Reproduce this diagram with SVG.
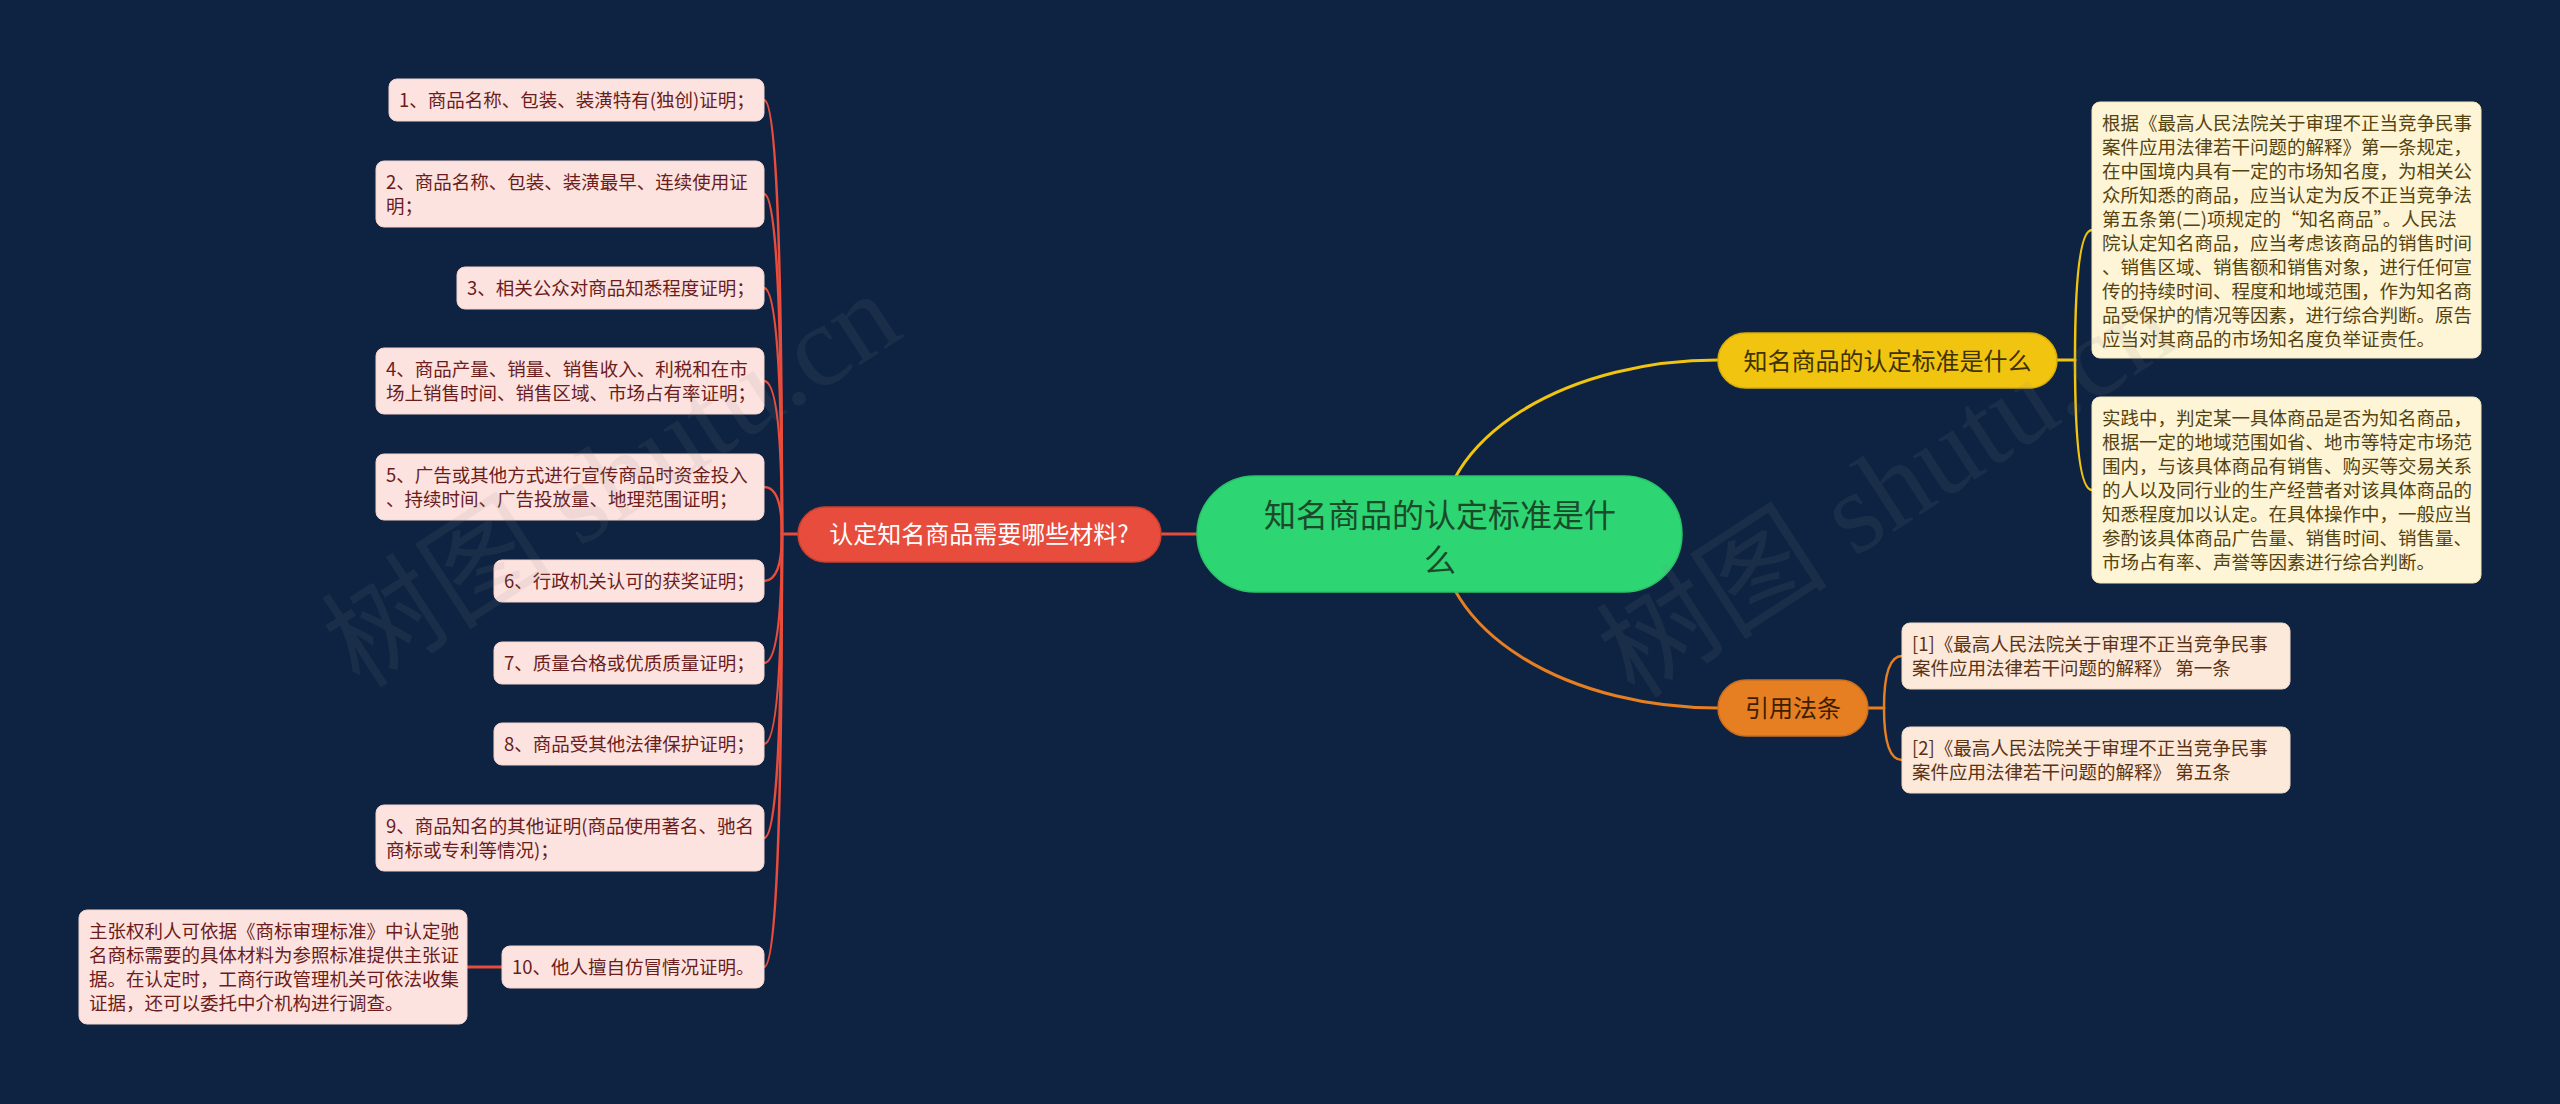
<svg xmlns="http://www.w3.org/2000/svg" width="2560" height="1104" viewBox="0 0 2560 1104">
<style>
.bg{fill:#0d2341}
.t{font-family:"Noto Sans CJK SC","Noto Sans",sans-serif;font-size:18.5px}
.pk rect{fill:#fce3df;stroke:#f6d3ce;stroke-width:1}
.pk text{fill:#6b1c1c}
.cr rect{fill:#fdf5d6;stroke:#f3e8bf;stroke-width:1}
.cr text{fill:#55430f}
.pc rect{fill:#fce9da;stroke:#f2dac6;stroke-width:1}
.pc text{fill:#5a3314}
.c{fill:none;stroke-width:3;stroke-linecap:round}
.cred{stroke:#e74c3c}
.cyel{stroke:#f1c40f}
.cora{stroke:#e67e22}
.big{font-family:"Noto Sans CJK SC","Noto Sans",sans-serif;text-anchor:middle}
.wm{font-family:"Liberation Serif","Noto Sans CJK SC",serif;font-size:116px;fill:#8a8a8a;opacity:0.11}
</style>
<rect class="bg" x="0" y="0" width="2560" height="1104"/>
<g id="connectors">
<path class="c cred" d="M1161,534 H1198"/>
<path class="c cred" d="M798,534 H782"/>
<g>
<path class="c cred" style="stroke-width:2.5" d="M782,534 Q782,100 764,100"/>
<path class="c cred" style="stroke-width:2.5" d="M782,534 Q782,194 764,194"/>
<path class="c cred" style="stroke-width:2.5" d="M782,534 Q782,288 764,288"/>
<path class="c cred" style="stroke-width:2.5" d="M782,534 Q782,381 764,381"/>
<path class="c cred" style="stroke-width:2.5" d="M782,534 Q782,487 764,487"/>
<path class="c cred" style="stroke-width:2.5" d="M782,534 Q782,581 764,581"/>
<path class="c cred" style="stroke-width:2.5" d="M782,534 Q782,663 764,663"/>
<path class="c cred" style="stroke-width:2.5" d="M782,534 Q782,744 764,744"/>
<path class="c cred" style="stroke-width:2.5" d="M782,534 Q782,838 764,838"/>
<path class="c cred" style="stroke-width:2.5" d="M782,534 Q782,967 764,967"/>
</g>
<path class="c cred" d="M502,967 H467"/>
<path class="c cyel" d="M1440,534 A278,174 0 0 1 1718,360"/>
<path class="c cora" d="M1440,534 A278,174 0 0 0 1718,708"/>
<path class="c cyel" d="M2057,360 H2075"/>
<path class="c cyel" style="stroke-width:2.5" d="M2075,360 Q2075,230 2092,230"/>
<path class="c cyel" style="stroke-width:2.5" d="M2075,360 Q2075,490 2092,490"/>
<path class="c cora" d="M1868,708 H1884"/>
<path class="c cora" style="stroke-width:2.5" d="M1884,708 Q1884,656 1902,656"/>
<path class="c cora" style="stroke-width:2.5" d="M1884,708 Q1884,760 1902,760"/>
</g>
<g id="root">
<rect x="1197" y="476" width="485" height="116" rx="58" fill="#2ed573" stroke="#29c468" stroke-width="1.5"/>
<text class="big" font-size="32" fill="#1b4a2b"><tspan x="1440" y="527">知名商品的认定标准是什</tspan><tspan x="1440" y="572">么</tspan></text>
</g>
<g id="branch-materials">
<rect x="798" y="507" width="363" height="55" rx="27.5" fill="#e74c3c" stroke="#c9402f" stroke-width="1.5"/>
<text class="big" x="979" y="543" font-size="24" fill="#ffffff">认定知名商品需要哪些材料?</text>
</g>
<g id="branch-standard">
<rect x="1718" y="333" width="339" height="55" rx="27.5" fill="#f1c40f" stroke="#d8ae0c" stroke-width="1.5"/>
<text class="big" x="1887.5" y="370" font-size="24" fill="#3f3200">知名商品的认定标准是什么</text>
</g>
<g id="branch-law">
<rect x="1718" y="680" width="150" height="56" rx="28" fill="#e67e22" stroke="#cc6d1a" stroke-width="1.5"/>
<text class="big" x="1793" y="717" font-size="24" fill="#3d1f00">引用法条</text>
</g>
<g id="m1" class="pk"><rect x="389" y="79" width="375" height="42" rx="8"/><text class="t" x="399" y="107">1、商品名称、包装、装潢特有(独创)证明；</text></g>
<g id="m2" class="pk"><rect x="376" y="161" width="388" height="66" rx="8"/><text class="t"><tspan x="386" y="189">2、商品名称、包装、装潢最早、连续使用证</tspan><tspan x="386" y="213">明；</tspan></text></g>
<g id="m3" class="pk"><rect x="457" y="267" width="307" height="42" rx="8"/><text class="t" x="467" y="295">3、相关公众对商品知悉程度证明；</text></g>
<g id="m4" class="pk"><rect x="376" y="348" width="388" height="66" rx="8"/><text class="t"><tspan x="386" y="376">4、商品产量、销量、销售收入、利税和在市</tspan><tspan x="386" y="400">场上销售时间、销售区域、市场占有率证明；</tspan></text></g>
<g id="m5" class="pk"><rect x="376" y="454" width="388" height="66" rx="8"/><text class="t"><tspan x="386" y="482">5、广告或其他方式进行宣传商品时资金投入</tspan><tspan x="386" y="506">、持续时间、广告投放量、地理范围证明；</tspan></text></g>
<g id="m6" class="pk"><rect x="494" y="560" width="270" height="42" rx="8"/><text class="t" x="504" y="588">6、行政机关认可的获奖证明；</text></g>
<g id="m7" class="pk"><rect x="494" y="642" width="270" height="42" rx="8"/><text class="t" x="504" y="670">7、质量合格或优质质量证明；</text></g>
<g id="m8" class="pk"><rect x="494" y="723" width="270" height="42" rx="8"/><text class="t" x="504" y="751">8、商品受其他法律保护证明；</text></g>
<g id="m9" class="pk"><rect x="376" y="805" width="388" height="66" rx="8"/><text class="t"><tspan x="386" y="833">9、商品知名的其他证明(商品使用著名、驰名</tspan><tspan x="386" y="857">商标或专利等情况)；</tspan></text></g>
<g id="m10" class="pk"><rect x="502" y="946" width="262" height="42" rx="8"/><text class="t" x="512" y="974">10、他人擅自仿冒情况证明。</text></g>
<g id="m10-note" class="pk"><rect x="79" y="910" width="388" height="114" rx="8"/><text class="t"><tspan x="89" y="938">主张权利人可依据《商标审理标准》中认定驰</tspan><tspan x="89" y="962">名商标需要的具体材料为参照标准提供主张证</tspan><tspan x="89" y="986">据。在认定时，工商行政管理机关可依法收集</tspan><tspan x="89" y="1010">证据，还可以委托中介机构进行调查。</tspan></text></g>
<g id="s1" class="cr"><rect x="2092" y="102" width="389" height="256" rx="8"/><text class="t"><tspan x="2102" y="130">根据《最高人民法院关于审理不正当竞争民事</tspan><tspan x="2102" y="154">案件应用法律若干问题的解释》第一条规定，</tspan><tspan x="2102" y="178">在中国境内具有一定的市场知名度，为相关公</tspan><tspan x="2102" y="202">众所知悉的商品，应当认定为反不正当竞争法</tspan><tspan x="2102" y="226">第五条第(二)项规定的“知名商品”。人民法</tspan><tspan x="2102" y="250">院认定知名商品，应当考虑该商品的销售时间</tspan><tspan x="2102" y="274">、销售区域、销售额和销售对象，进行任何宣</tspan><tspan x="2102" y="298">传的持续时间、程度和地域范围，作为知名商</tspan><tspan x="2102" y="322">品受保护的情况等因素，进行综合判断。原告</tspan><tspan x="2102" y="346">应当对其商品的市场知名度负举证责任。</tspan></text></g>
<g id="s2" class="cr"><rect x="2092" y="397" width="389" height="186" rx="8"/><text class="t"><tspan x="2102" y="425">实践中，判定某一具体商品是否为知名商品，</tspan><tspan x="2102" y="449">根据一定的地域范围如省、地市等特定市场范</tspan><tspan x="2102" y="473">围内，与该具体商品有销售、购买等交易关系</tspan><tspan x="2102" y="497">的人以及同行业的生产经营者对该具体商品的</tspan><tspan x="2102" y="521">知悉程度加以认定。在具体操作中，一般应当</tspan><tspan x="2102" y="545">参酌该具体商品广告量、销售时间、销售量、</tspan><tspan x="2102" y="569">市场占有率、声誉等因素进行综合判断。</tspan></text></g>
<g id="l1" class="pc"><rect x="1902" y="623" width="388" height="66" rx="8"/><text class="t"><tspan x="1912" y="651">[1]《最高人民法院关于审理不正当竞争民事</tspan><tspan x="1912" y="675">案件应用法律若干问题的解释》 第一条</tspan></text></g>
<g id="l2" class="pc"><rect x="1902" y="727" width="388" height="66" rx="8"/><text class="t"><tspan x="1912" y="755">[2]《最高人民法院关于审理不正当竞争民事</tspan><tspan x="1912" y="779">案件应用法律若干问题的解释》 第五条</tspan></text></g>
<g id="watermark">
<text class="wm" transform="translate(360,690) rotate(-33)">树图 shutu.cn</text>
<text class="wm" transform="translate(1635,700) rotate(-33)">树图 shutu.cn</text>
</g>
</svg>
